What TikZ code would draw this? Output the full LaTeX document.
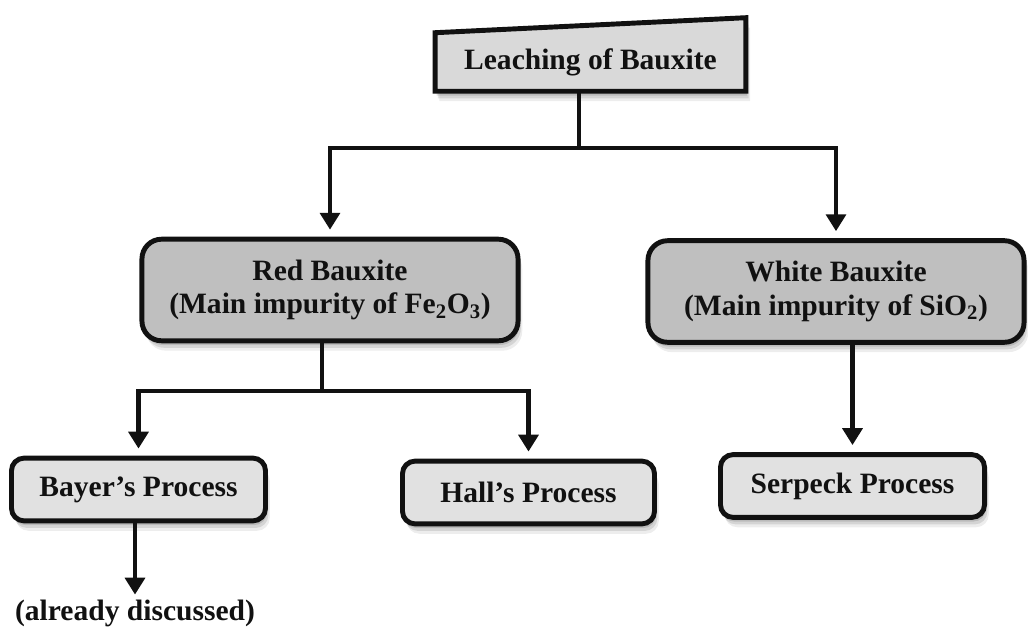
\documentclass[tikz,border=0pt]{standalone}
\usepackage{fontspec}
\setmainfont{Liberation Serif}
\usetikzlibrary{arrows.meta,backgrounds,shadows}

\definecolor{topfill}{HTML}{D9D9D9}
\definecolor{midfill}{HTML}{BFBFBF}
\definecolor{lowfill}{HTML}{E1E1E1}
\definecolor{ink}{HTML}{111111}

\tikzset{
  boxshadow/.style={
    drop shadow={shadow xshift=1pt,shadow yshift=-3pt,fill=black,opacity=.12},
    drop shadow={shadow xshift=2pt,shadow yshift=-5pt,fill=black,opacity=.10},
    drop shadow={shadow xshift=3pt,shadow yshift=-7pt,fill=black,opacity=.07}},
  midbox/.style={draw=ink,line width=3.5pt,fill=midfill,rounded corners=14pt,align=center,
    minimum width=9.4cm,minimum height=2.54cm,boxshadow},
  lowbox/.style={draw=ink,line width=3.5pt,fill=lowfill,rounded corners=9pt,align=center,
    minimum height=1.57cm,boxshadow},
  conn/.style={draw=ink,line width=3.4pt},
  arr/.style={conn,-{Triangle[length=12pt,width=14pt]},shorten >=5pt},
}

\begin{document}
\begin{tikzpicture}[x=0.025cm,y=-0.025cm,text=ink,font=\fontsize{21}{24}\selectfont\bfseries]
  \useasboundingbox (0,0) rectangle (1028,629);

  \node[minimum width=7.75cm,minimum height=1.45cm] (leach) at (590.5,62) {Leaching of Bauxite};
  \begin{scope}[on background layer]
    \fill[white] (0,0) rectangle (1028,629);
    % box with the slanted lid
    \draw[draw=ink,line width=3.5pt,fill=topfill,boxshadow] (leach.south west) -- (leach.south east)
      -- ([yshift=0.375cm]leach.north east) -- (leach.north west) -- cycle;
  \end{scope}

  \node[midbox] (red) at (330,290) {Red Bauxite\\(Main impurity of Fe\textsubscript{2}O\textsubscript{3})};
  \node[midbox] (white) at (836,291.5) {White Bauxite\\(Main impurity of SiO\textsubscript{2})};

  \node[lowbox,minimum width=6.35cm] (bayer) at (138.5,489.5) {Bayer’s Process};
  \node[lowbox,minimum width=6.3cm] (hall) at (528.5,492.5) {Hall’s Process};
  \node[lowbox,minimum width=6.6cm] (serpeck) at (852.5,486) {Serpeck Process};
  \node (disc) at (135,613) {(already discussed)};

  \coordinate (split1) at (579,148);
  \coordinate (split2) at (322,391);

  \draw[conn] (split1 |- leach.south) -- (split1);
  \draw[arr] (split1) -| (red.north);
  \draw[arr] (split1) -| (white.north);

  \draw[conn] (split2 |- red.south) -- (split2);
  \draw[arr] (split2) -| (bayer.north);
  \draw[arr] (split2) -| (hall.north);

  \draw[arr] (serpeck.north |- white.south) -- (serpeck.north);
  \draw[arr,shorten >=0pt] (disc.north |- bayer.south) -- (disc.north);
\end{tikzpicture}
\end{document}
